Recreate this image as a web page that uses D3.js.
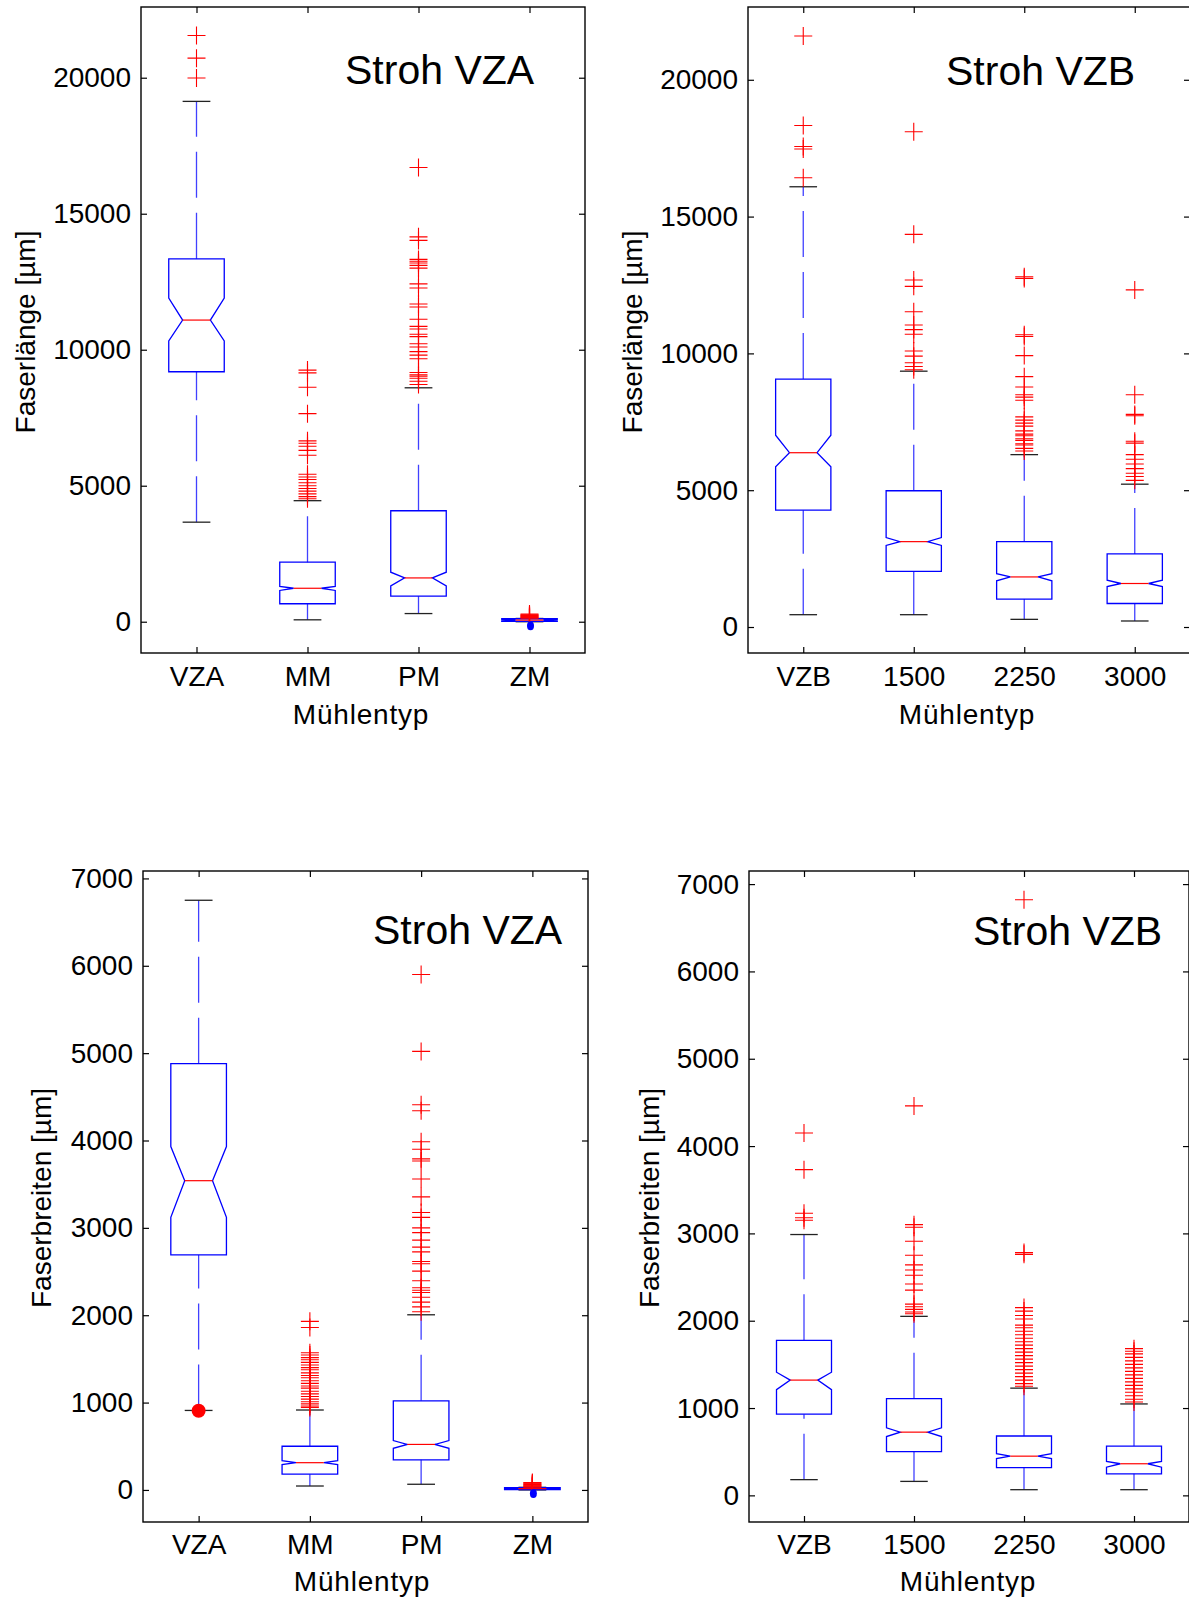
<!DOCTYPE html>
<html><head><meta charset="utf-8">
<script src="https://cdn.jsdelivr.net/npm/d3@7"></script>
<style>
body{margin:0;background:#fff}
svg{display:block}
text{font-family:"Liberation Sans",Arial,Helvetica,sans-serif;fill:#000}
</style>
</head><body>
<svg id="chart" width="1189" height="1600"></svg>
<script>
// ---------- categories & tick labels ----------
const catsA = ["VZA", "MM", "PM", "ZM"];
const catsB = ["VZB", "1500", "2250", "3000"];
const lenTicks = [0, 5000, 10000, 15000, 20000];
const widTicks = [0, 1000, 2000, 3000, 4000, 5000, 6000, 7000];

// ---------- Faserlänge, Stroh VZA ----------
const lenA_lo  = [3660, 70, 300, 0];
const lenA_q1  = [9190, 660, 940, 10];
const lenA_nlo = [10320, 1150, 1320, 35];
const lenA_med = [11090, 1230, 1610, 60];
const lenA_nhi = [11900, 1300, 1820, 85];
const lenA_q3  = [13340, 2190, 4080, 110];
const lenA_hi  = [19130, 4450, 8600, 120];
const lenA_out = [
  [21550, 20720, 19990],
  [9250, 9150, 8620, 7650, 6650, 6560, 6450, 6300, 6120, 5420, 5320, 5230, 5110, 5000, 4900, 4800, 4700, 4600, 4520],
  [16700, 14150, 14020, 13320, 13250, 13190, 13100, 13000, 12420, 12270, 11680, 11570, 11120, 10860, 10760, 10570, 10480, 10220, 10100, 9930, 9800, 9670, 9160, 9080, 9030, 8950, 8840, 8720],
  [280, 250, 230, 210, 190, 170, 150, 130]
];
const lenA_blob = [null, null, null, -150];
const lenA_dot  = [null, null, null, null];

// ---------- Faserlänge, Stroh VZB ----------
const lenB_lo  = [450, 450, 280, 220];
const lenB_q1  = [4270, 2030, 1020, 860];
const lenB_nlo = [5860, 2980, 1690, 1480];
const lenB_med = [6370, 3120, 1830, 1590];
const lenB_nhi = [7010, 3270, 1950, 1710];
const lenB_q3  = [9060, 4980, 3120, 2670];
const lenB_hi  = [16090, 9350, 6300, 5220];
const lenB_out = [
  [21600, 18330, 17560, 17470, 16420],
  [18100, 14350, 12680, 12450, 11520, 11040, 10870, 10700, 10090, 9900, 9660, 9520, 9400],
  [12800, 12740, 10680, 10620, 9920, 9150, 8770, 8490, 8400, 8290, 7680, 7560, 7450, 7340, 7170, 7050, 6990, 6880, 6820, 6700, 6650, 6530, 6430],
  [12320, 8490, 7770, 7720, 6790, 6720, 6300, 6130, 5960, 5790, 5620, 5500, 5360]
];
const lenB_blob = [null, null, null, null];
const lenB_dot  = [null, null, null, null];

// ---------- Faserbreiten, Stroh VZA ----------
const widA_lo  = [910, 45, 65, 0];
const widA_q1  = [2690, 180, 345, 5];
const widA_nlo = [3120, 290, 477, 10];
const widA_med = [3540, 312, 521, 15];
const widA_nhi = [3930, 334, 565, 20];
const widA_q3  = [4880, 500, 1020, 25];
const widA_hi  = [6750, 915, 2005, 30];
const widA_out = [
  [],
  [1930, 1860, 1570, 1545, 1515, 1490, 1460, 1430, 1400, 1375, 1340, 1310, 1285, 1250, 1220, 1190, 1165, 1130, 1100, 1070, 1040, 1010, 985, 960, 945],
  [5900, 5020, 4410, 4340, 3985, 3900, 3790, 3765, 3560, 3355, 3175, 3120, 3000, 2945, 2860, 2780, 2725, 2615, 2590, 2505, 2395, 2315, 2285, 2260, 2205, 2150, 2095, 2040],
  [85, 78, 70, 62, 55, 48, 42, 36, 30]
];
const widA_blob = [null, null, null, -40];
const widA_dot  = [907, null, null, null];

// ---------- Faserbreiten, Stroh VZB ----------
const widB_lo  = [180, 160, 65, 65];
const widB_q1  = [930, 500, 318, 247];
const widB_nlo = [1210, 674, 422, 323];
const widB_med = [1320, 724, 449, 362];
const widB_nhi = [1410, 773, 477, 389];
const widB_q3  = [1775, 1107, 680, 565];
const widB_hi  = [2987, 2050, 1228, 1047];
const widB_out = [
  [4150, 3730, 3230, 3180, 3150],
  [4460, 3100, 3070, 2910, 2750, 2640, 2580, 2520, 2420, 2350, 2190, 2160, 2130, 2100, 2080],
  [6820, 2780, 2760, 2150, 2110, 2060, 2020, 1950, 1920, 1880, 1840, 1800, 1760, 1720, 1680, 1640, 1600, 1560, 1520, 1480, 1440, 1400, 1360, 1320, 1280, 1250],
  [1680, 1650, 1620, 1580, 1540, 1500, 1460, 1420, 1380, 1340, 1300, 1260, 1220, 1180, 1140, 1100, 1070]
];
const widB_blob = [null, null, null, null];
const widB_dot  = [null, null, null, null];

// ---------- layout (positions, not data) ----------
const panels = [
  {cats: catsA, lo: lenA_lo, q1: lenA_q1, nlo: lenA_nlo, med: lenA_med, nhi: lenA_nhi, q3: lenA_q3, hi: lenA_hi,
   out: lenA_out, blob: lenA_blob, dot: lenA_dot, ticks: lenTicks, dom: [-1150, 22600],
   title: "Stroh VZA", ylabel: "Faserlänge [µm]",
   L: 141, R: 585, T: 7, B: 653, titleX: 345, titleY: 84, ylabX: 35, ylabY: 332, xlabX: 361, xtickPad: 13, xlabDy: 71},
  {cats: catsB, lo: lenB_lo, q1: lenB_q1, nlo: lenB_nlo, med: lenB_med, nhi: lenB_nhi, q3: lenB_q3, hi: lenB_hi,
   out: lenB_out, blob: lenB_blob, dot: lenB_dot, ticks: lenTicks, dom: [-950, 22660],
   title: "Stroh VZB", ylabel: "Faserlänge [µm]",
   L: 748, R: 1190, T: 7, B: 653, titleX: 946, titleY: 85, ylabX: 642, ylabY: 332, xlabX: 967, xtickPad: 13, xlabDy: 71},
  {cats: catsA, lo: widA_lo, q1: widA_q1, nlo: widA_nlo, med: widA_med, nhi: widA_nhi, q3: widA_q3, hi: widA_hi,
   out: widA_out, blob: widA_blob, dot: widA_dot, ticks: widTicks, dom: [-367, 7085],
   title: "Stroh VZA", ylabel: "Faserbreiten [µm]",
   L: 143, R: 588, T: 871, B: 1522, titleX: 373, titleY: 944, ylabX: 51, ylabY: 1198, xlabX: 362, xtickPad: 12, xlabDy: 69},
  {cats: catsB, lo: widB_lo, q1: widB_q1, nlo: widB_nlo, med: widB_med, nhi: widB_nhi, q3: widB_q3, hi: widB_hi,
   out: widB_out, blob: widB_blob, dot: widB_dot, ticks: widTicks, dom: [-305, 7150],
   title: "Stroh VZB", ylabel: "Faserbreiten [µm]",
   L: 749, R: 1189, T: 871, B: 1522, titleX: 973, titleY: 945, ylabX: 659, ylabY: 1198, xlabX: 968, xtickPad: 12, xlabDy: 69}
];

const svg = d3.select("#chart");
svg.append("rect").attr("width", 1189).attr("height", 1600).attr("fill", "#fff");

const BLUE = "#0000ff", RED = "#ff0000";

panels.forEach(p => {
  const g = svg.append("g");
  const x = d3.scaleLinear().domain([0.5, 4.5]).range([p.L, p.R]);
  const y = d3.scaleLinear().domain(p.dom).range([p.B, p.T]);
  const unit = x(1) - x(0);
  const bw = 0.5 * unit;        // box width
  const nw = 0.25 * unit;       // notch / cap width
  const idx = d3.range(p.cats.length);

  // frame
  g.append("rect").attr("x", p.L).attr("y", p.T).attr("width", p.R - p.L).attr("height", p.B - p.T)
    .attr("fill", "none").attr("stroke", "#000").attr("stroke-width", 1.4);

  // axes
  const styleAxis = sel => {
    sel.select(".domain").remove();
    sel.selectAll(".tick line").attr("stroke", "#000").attr("stroke-width", 1.2);
    sel.selectAll(".tick text").attr("font-size", 28).attr("fill", "#000")
      .attr("font-family", '"Liberation Sans",Arial,sans-serif');
  };
  g.append("g").attr("transform", `translate(${p.L},0)`)
    .call(d3.axisLeft(y).tickValues(p.ticks).tickFormat(d3.format("d")).tickSize(-6).tickPadding(10))
    .call(styleAxis);
  g.append("g").attr("transform", `translate(${p.R},0)`)
    .call(d3.axisRight(y).tickValues(p.ticks).tickFormat("").tickSize(-6))
    .call(styleAxis);
  g.append("g").attr("transform", `translate(0,${p.B})`)
    .call(d3.axisBottom(x).tickValues([1, 2, 3, 4]).tickFormat(i => p.cats[i - 1]).tickSize(-6).tickPadding(p.xtickPad))
    .call(styleAxis);
  g.append("g").attr("transform", `translate(0,${p.T})`)
    .call(d3.axisTop(x).tickValues([1, 2, 3, 4]).tickFormat("").tickSize(-6))
    .call(styleAxis);

  // whiskers (drawn from lower end upward, dashed)
  idx.forEach(i => {
    const cx = x(i + 1);
    g.append("line").attr("x1", cx).attr("x2", cx).attr("y1", y(p.lo[i])).attr("y2", y(p.q1[i]))
      .attr("stroke", BLUE).attr("stroke-opacity", 0.75).attr("stroke-width", 1.3).attr("stroke-dasharray", "46 15");
    g.append("line").attr("x1", cx).attr("x2", cx).attr("y1", y(p.q3[i])).attr("y2", y(p.hi[i]))
      .attr("stroke", BLUE).attr("stroke-opacity", 0.75).attr("stroke-width", 1.3).attr("stroke-dasharray", "46 15");
  });

  // caps
  idx.forEach(i => {
    const cx = x(i + 1);
    [p.lo[i], p.hi[i]].forEach(v => {
      g.append("line").attr("x1", cx - nw / 2).attr("x2", cx + nw / 2).attr("y1", y(v)).attr("y2", y(v))
        .attr("stroke", "#222").attr("stroke-width", 1.3);
    });
  });

  // notched boxes
  idx.forEach(i => {
    const cx = x(i + 1);
    const pts = [
      [cx - bw / 2, y(p.q1[i])], [cx - bw / 2, y(p.nlo[i])], [cx - nw / 2, y(p.med[i])],
      [cx - bw / 2, y(p.nhi[i])], [cx - bw / 2, y(p.q3[i])], [cx + bw / 2, y(p.q3[i])],
      [cx + bw / 2, y(p.nhi[i])], [cx + nw / 2, y(p.med[i])], [cx + bw / 2, y(p.nlo[i])],
      [cx + bw / 2, y(p.q1[i])]
    ];
    g.append("path").attr("d", d3.line()(pts) + "Z").attr("fill", "none")
      .attr("stroke", BLUE).attr("stroke-width", 1.3);
    g.append("line").attr("x1", cx - nw / 2).attr("x2", cx + nw / 2).attr("y1", y(p.med[i])).attr("y2", y(p.med[i]))
      .attr("stroke", RED).attr("stroke-width", 1.2);
  });

  // outliers (+ markers)
  idx.forEach(i => {
    const cx = x(i + 1);
    p.out[i].forEach(v => {
      const yy = y(v);
      g.append("path").attr("d", `M${cx - 9},${yy}H${cx + 9}M${cx},${yy - 9}V${yy + 9}`)
        .attr("stroke", RED).attr("stroke-width", 1.1).attr("fill", "none");
    });
  });

  // small blue blobs and red dot markers
  idx.forEach(i => {
    const cx = x(i + 1);
    if (p.blob[i] != null) {
      g.append("ellipse").attr("cx", cx + 1).attr("cy", y(p.blob[i])).attr("rx", 3.5).attr("ry", 4.5).attr("fill", BLUE);
    }
    if (p.dot[i] != null) {
      g.append("circle").attr("cx", cx).attr("cy", y(p.dot[i])).attr("r", 7).attr("fill", RED);
    }
  });

  // texts
  g.append("text").attr("x", p.titleX).attr("y", p.titleY).attr("font-size", 41).text(p.title);
  g.append("text").attr("transform", `translate(${p.ylabX},${p.ylabY}) rotate(-90)`)
    .attr("text-anchor", "middle").attr("font-size", 28).text(p.ylabel);
  g.append("text").attr("x", p.xlabX).attr("y", p.B + p.xlabDy).attr("text-anchor", "middle")
    .attr("font-size", 28).attr("letter-spacing", 0.8).text("Mühlentyp");
});
</script>
</body></html>
